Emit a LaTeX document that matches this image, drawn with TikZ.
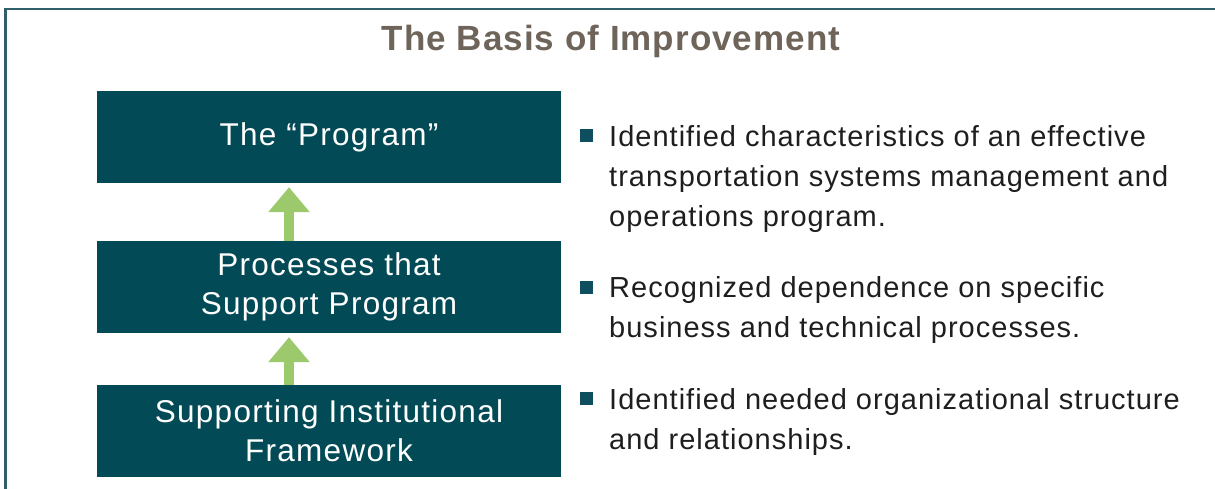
\documentclass[tikz,border=0pt]{standalone}
\usepackage{fontspec}
\setmainfont{Liberation Sans}
\newfontfamily\itemfont[LetterSpace=3.5]{Liberation Sans}
\newfontfamily\boxfont[LetterSpace=4]{Liberation Sans}
\newfontfamily\titlefont[LetterSpace=3]{Liberation Sans}
\usetikzlibrary{arrows.meta,positioning}
\definecolor{frameteal}{HTML}{2E5F6B}
\definecolor{boxteal}{HTML}{024A56}
\definecolor{bulletteal}{HTML}{0F4E5E}
\definecolor{arrowgreen}{HTML}{9CC96C}
\definecolor{titlegray}{HTML}{6E6459}
\definecolor{textdark}{HTML}{1E1E1E}

\begin{document}
\begin{tikzpicture}
[
x=1pt, y=-1pt,
titlestyle/.style={font=\titlefont\fontsize{35}{40}\selectfont\bfseries, text=titlegray, inner sep=0pt, anchor=base},
boxstyle/.style={draw=none, fill=boxteal, text=white, minimum width=464pt, minimum height=92pt, align=center, font=\boxfont\fontsize{31.5}{39}\selectfont},
bulletstyle/.style={draw=none, fill=bulletteal, minimum size=13pt, inner sep=0pt},
itemstyle/.style={anchor=north west, align=left, text=textdark, font=\itemfont\fontsize{29}{40}\selectfont, inner sep=0pt},
uparrow/.style={draw=arrowgreen, line width=10pt, -{Triangle[width=40pt,length=25pt]}, shorten >=4pt}
]
\useasboundingbox (0,0) rectangle (1215,489);
\clip (0,0) rectangle (1215,489);
\draw[frameteal, line width=2.5pt] (5.5,9) rectangle (1240,510);

\node (title) [titlestyle] at (611,51) {The Basis of Improvement};

% boxes, bottom to top
\node (prog) [boxstyle] at (329,137) {The “Program”};
\node (proc) [boxstyle] at (329,287) {Processes that\\Support Program};
\node (frame) [boxstyle] at (329,431) {Supporting Institutional\\Framework};

\draw[uparrow] ([xshift=-40pt]proc.north) -- ([xshift=-40pt]prog.south);
\draw[uparrow] ([xshift=-40pt]frame.north) -- ([xshift=-40pt]proc.south);

% bullets
\node (b1) [bulletstyle] at (586,135.5) {};
\node (b2) [bulletstyle] at (586,287) {};
\node (b3) [bulletstyle] at (586,398.5) {};
\node (t1) [itemstyle] at (609,125) {Identified characteristics of an effective\\transportation systems management and\\operations program.};
\node (t2) [itemstyle] at (609,276.5) {Recognized dependence on specific\\business and technical processes.};
\node (t3) [itemstyle] at (609,388) {Identified needed organizational structure\\and relationships.};
\end{tikzpicture}
\end{document}
